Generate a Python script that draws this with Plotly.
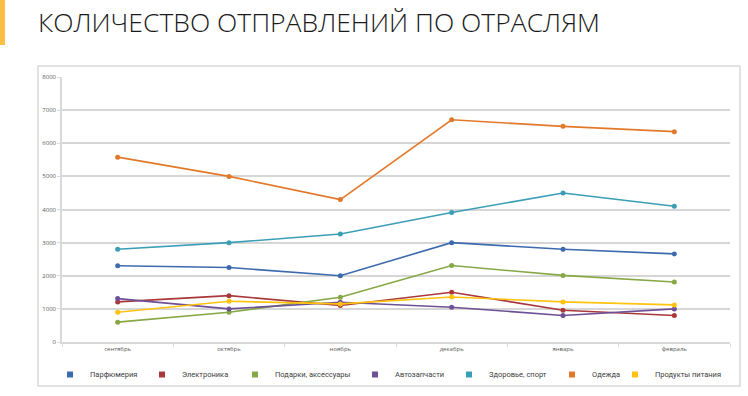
import plotly.graph_objects as go

months = ["сентябрь", "октябрь", "ноябрь", "декабрь", "январь", "февраль"]
series_names = ["Парфюмерия", "Электроника", "Подарки, аксессуары", "Автозапчасти",
                "Здоровье, спорт", "Одежда", "Продукты питания"]
parfum = [2300, 2250, 2000, 3000, 2800, 2660]
electronics = [1210, 1400, 1100, 1500, 960, 800]
gifts = [600, 900, 1350, 2310, 2010, 1810]
autoparts = [1310, 1000, 1200, 1050, 800, 1000]
health = [2800, 3000, 3260, 3910, 4500, 4100]
clothes = [5580, 5000, 4300, 6710, 6510, 6350]
food = [900, 1230, 1150, 1360, 1210, 1120]
tick_vals = [0, 1000, 2000, 3000, 4000, 5000, 6000, 7000, 8000]

values = [parfum, electronics, gifts, autoparts, health, clothes, food]
colors = ["#3D6AAE", "#A8383A", "#86A845", "#6E5096", "#3B9EB6", "#E2792A", "#FFC20E"]
# legend square centres (pixels) in the reference
legend_px = [73, 165, 258, 378, 472, 575, 638]

L, R, T, B = 62, 18, 77, 54
W, H = 748, 396
pw, ph = W - L - R, H - T - B


def px(x):
    return (x - L) / pw


def py(y):
    return (H - B - y) / ph


fig = go.Figure()
for name, vals, c in zip(series_names, values, colors):
    fig.add_trace(go.Scatter(x=months, y=vals, name=name, mode="lines+markers",
                             line=dict(color=c, width=1.6),
                             marker=dict(color=c, size=5),
                             showlegend=False))

legend_layouts = {}
for i, (name, c, lx) in enumerate(zip(series_names, colors, legend_px)):
    key = "legend" if i == 0 else f"legend{i + 1}"
    fig.add_trace(go.Scatter(x=[None], y=[None], name=name, mode="markers",
                             marker=dict(color=c, size=6, symbol="square"),
                             showlegend=True, legend=key))
    legend_layouts[key] = dict(orientation="h", x=px(lx - 23), xanchor="left",
                               y=py(360), yanchor="top", itemwidth=30,
                               font=dict(family="Roboto, sans-serif", size=7.5, color="#404040"),
                               bgcolor="rgba(0,0,0,0)")

fig.update_layout(
    width=W, height=H,
    margin=dict(l=L, r=R, t=T, b=B, autoexpand=False),
    paper_bgcolor="white", plot_bgcolor="white",
    font=dict(family="Open Sans, sans-serif", color="#404040"),
    title=dict(text="КОЛИЧЕСТВО ОТПРАВЛЕНИЙ ПО ОТРАСЛЯМ",
               xref="container", yref="container", x=38 / W, xanchor="left",
               y=1 - 23 / H, yanchor="middle",
               font=dict(family="Open Sans, sans-serif", size=26.5, color="#1a1a1a", weight=300)),
    showlegend=True,
    xaxis=dict(range=[-0.5, 5.5], showgrid=False, showline=True, linecolor="#D9D9D9",
               linewidth=1.5, ticks="outside", tickson="boundaries", ticklen=3,
               tickcolor="#D9D9D9", tickfont=dict(size=6, color="#595959"), zeroline=False,
               fixedrange=True),
    yaxis=dict(range=[0, 8000], tickvals=tick_vals, showgrid=True, gridcolor="#D6D6D6",
               gridwidth=1.6, showline=True, linecolor="#D9D9D9", linewidth=1.5,
               ticks="outside", ticklen=3, tickcolor="#D9D9D9",
               tickfont=dict(size=6, color="#595959"), zeroline=False, fixedrange=True),
    shapes=[
        dict(type="rect", xref="paper", yref="paper", x0=px(38), x1=px(740), y0=py(386), y1=py(66),
             line=dict(color="#D9D9D9", width=1.5), fillcolor="rgba(0,0,0,0)", layer="below"),
        dict(type="rect", xref="paper", yref="paper", x0=px(0), x1=px(5), y0=py(45), y1=py(0),
             line=dict(width=0), fillcolor="#FBBF45"),
    ],
    **legend_layouts,
)

fig.write_html("out.html", config={"displayModeBar": False},
               post_script="document.body.style.margin='0';document.body.style.overflow='hidden';")
